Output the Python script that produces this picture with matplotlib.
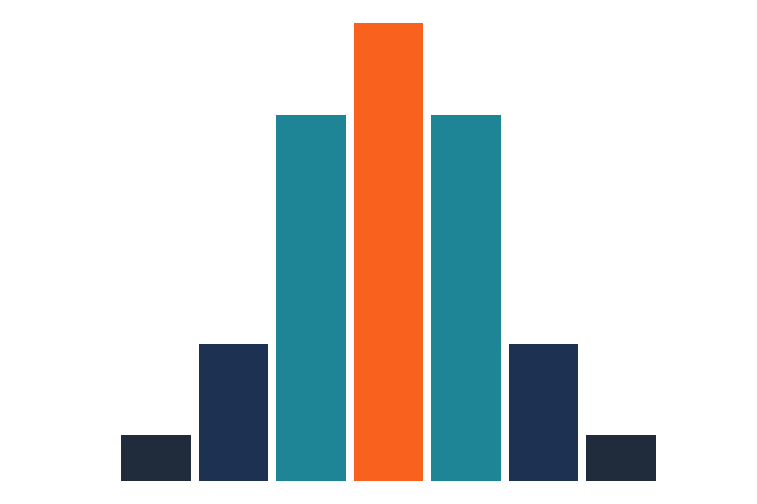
import numpy as np
import matplotlib.pyplot as plt

categories = ["1", "2", "3", "4", "5", "6", "7"]
values = [1, 3, 8, 10, 8, 3, 1]
colors = ["#202b3b", "#1d3253", "#1d8596", "#f9621e", "#1d8596", "#1d3253", "#202b3b"]

fig = plt.figure(figsize=(7.57, 5.04), dpi=100)
ax = fig.add_axes([121/757., 23/504., 535/757., 458/504.])

x = np.arange(len(categories))
ax.bar(x, values, width=0.9, color=colors)
ax.set_xlim(-0.45, len(categories) - 0.55)
ax.set_ylim(0, 10)
ax.axis("off")

fig.savefig("out.png", dpi=100)
